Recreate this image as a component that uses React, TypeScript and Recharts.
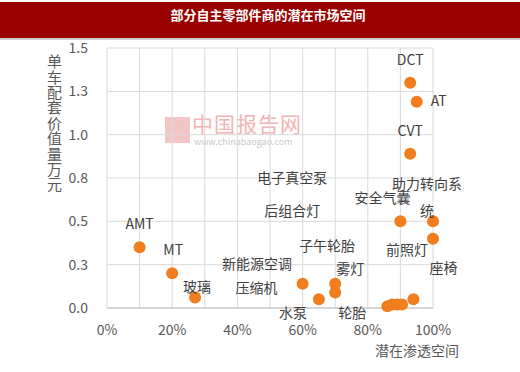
import { CartesianGrid, Scatter, ScatterChart, XAxis, YAxis } from 'recharts'

// 名称 / 潜在渗透空间 / 单车配套价值量（万元）
const names = ['AMT', 'MT', '玻璃', '压缩机', '水泵', '雾灯', '轮胎', '电子真空泵', '后组合灯', '子午轮胎', '新能源空调', '安全气囊', '助力转向系统', '前照灯', '座椅', 'DCT', 'AT', 'CVT']
const penetration = [0.1, 0.2, 0.27, 0.6, 0.65, 0.7, 0.7, 0.86, 0.875, 0.89, 0.905, 0.9, 1.0, 1.0, 0.94, 0.93, 0.95, 0.93]
const unitValue = [0.35, 0.2, 0.06, 0.14, 0.05, 0.14, 0.09, 0.01, 0.02, 0.02, 0.02, 0.5, 0.5, 0.4, 0.05, 1.3, 1.19, 0.89]

const xTicks = [0, 0.1, 0.2, 0.3, 0.4, 0.5, 0.6, 0.7, 0.8, 0.9, 1.0]
const xTickLabels = ['0%', '', '20%', '', '40%', '', '60%', '', '80%', '', '100%']
const yTicks = [0, 0.25, 0.5, 0.75, 1.0, 1.25, 1.5]
const yTickLabels = ['0.0', '0.3', '0.5', '0.8', '1.0', '1.3', '1.5']

// label placement (px offset from the dot), moved by hand like in the original
const labelLines: Record<string, string[]> = { 助力转向系统: ['助力转向系', '统'] }
const labelOffsets: Record<string, [number, number][]> = {
  AMT: [[0, -24]],
  MT: [[1, -24]],
  玻璃: [[2, -12]],
  压缩机: [[-46, 3]],
  水泵: [[-26, 13]],
  雾灯: [[15, -16]],
  轮胎: [[17, 20]],
  电子真空泵: [[-95, -129]],
  后组合灯: [[-100, -95]],
  子午轮胎: [[-70, -60]],
  新能源空调: [[-145, -42]],
  安全气囊: [[-18, -24]],
  助力转向系统: [[-6, -38], [-6, -11]],
  前照灯: [[-26, 10]],
  座椅: [[30, -32]],
  DCT: [[0, -24]],
  AT: [[22, -2]],
  CVT: [[0, -24]],
}

const data = names.map((name, i) => ({ name, x: penetration[i], y: unitValue[i] }))

const font = "'Noto Sans CJK SC', 'Noto Sans', sans-serif"

function Dot(props: any) {
  const { cx, cy, payload } = props
  const lines = labelLines[payload.name] ?? [payload.name]
  const offs = labelOffsets[payload.name] ?? [[0, -20]]
  return (
    <g>
      <circle cx={cx} cy={cy} r={6} fill="#f07d1e" />
      {lines.map((t, i) => (
        <text key={i} x={cx + offs[i][0]} y={cy + offs[i][1]} textAnchor="middle" dominantBaseline="central" fontSize={14} fill="#404040">
          {t}
        </text>
      ))}
    </g>
  )
}

export default function App() {
  return (
    <div style={{ position: 'absolute', left: 0, top: 0, width: 520, height: 372, background: '#fff', fontFamily: font, overflow: 'hidden' }}>
      <div style={{ position: 'absolute', left: 0, top: 2, width: 520, height: 36, background: '#990000', borderBottom: '2px solid #cfcfcf' }} />
      <div style={{ position: 'absolute', left: 8, top: 6, width: 520, textAlign: 'center', color: '#fff', fontSize: 13, fontWeight: 'bold', lineHeight: '18px' }}>
        部分自主零部件商的潜在市场空间
      </div>

      {/* watermark */}
      <div style={{ position: 'absolute', left: 165, top: 117, width: 25, height: 26, background: '#f3c6c6' }} />
      <div style={{ position: 'absolute', left: 192, top: 110, fontSize: 21, color: '#f3b4b4', lineHeight: '26px', letterSpacing: 1 }}>中国报告网</div>
      <div style={{ position: 'absolute', left: 194, top: 136, fontSize: 9, color: '#c9c9c9', lineHeight: '12px' }}>www.chinabaogao.com</div>

      <div style={{ position: 'absolute', left: 0, top: 0 }}>
        <ScatterChart width={520} height={372} margin={{ top: 48, right: 87, bottom: 34, left: 0 }}>
          <CartesianGrid stroke="#d9d9d9" />
          <XAxis
            type="number"
            dataKey="x"
            domain={[0, 1]}
            ticks={xTicks}
            tickFormatter={(v: number) => xTickLabels[xTicks.indexOf(v)] ?? ''}
            axisLine={{ stroke: '#bfbfbf' }}
            tickLine={false}
            tickSize={0}
            tickMargin={17}
            height={30}
            interval={0}
            tick={{ fill: '#595959', fontSize: 14 }}
          />
          <YAxis
            type="number"
            dataKey="y"
            domain={[0, 1.5]}
            ticks={yTicks}
            tickFormatter={(v: number) => yTickLabels[yTicks.indexOf(v)] ?? ''}
            axisLine={false}
            tickLine={false}
            tickSize={0}
            tickMargin={19}
            width={107}
            interval={0}
            tick={{ fill: '#595959', fontSize: 14 }}
          />
          <Scatter data={data} shape={Dot} isAnimationActive={false} />
        </ScatterChart>
      </div>

      <div style={{ position: 'absolute', left: 47, top: 54, writingMode: 'vertical-rl', fontSize: 15, lineHeight: '15px', letterSpacing: 0.4, color: '#595959' }}>
        单车配套价值量万元
      </div>
      <div style={{ position: 'absolute', left: 375, top: 341, fontSize: 14, lineHeight: '18px', color: '#595959' }}>潜在渗透空间</div>
    </div>
  )
}
